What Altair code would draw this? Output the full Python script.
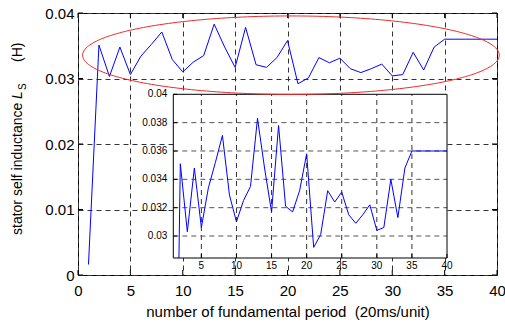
import altair as alt
import numpy as np
import pandas as pd

# ---------------- data ----------------
periods = list(range(1, 41))
inductance = [0.0016, 0.0351, 0.0303, 0.0348, 0.0306, 0.0334, 0.0352, 0.0371, 0.0329, 0.0310,
              0.0325, 0.0335, 0.0383, 0.0348, 0.0317, 0.0378, 0.0321, 0.0317, 0.0332, 0.0358,
              0.0292, 0.0301, 0.0332, 0.0324, 0.0331, 0.0315, 0.0309, 0.0315, 0.0322, 0.0304,
              0.0306, 0.0340, 0.0313, 0.0348, 0.0360, 0.0360, 0.0360, 0.0360, 0.0360, 0.0360]

main_x_ticks = [0, 5, 10, 15, 20, 25, 30, 35, 40]
main_y_ticks = [0, 0.01, 0.02, 0.03, 0.04]
inset_x_ticks = [5, 10, 15, 20, 25, 30, 35, 40]
inset_y_ticks = [0.03, 0.032, 0.034, 0.036, 0.038, 0.04]
inset_x_labels = ["5", "10", "15", "20", "25", "30", "35", "40"]
inset_y_labels = ["0.03", "0.032", "0.034", "0.036", "0.038", "0.04"]
inset_x_grid = [5, 10, 15, 20, 25, 30, 35]
inset_y_grid = [0.03, 0.032, 0.034, 0.036, 0.038]
inset_x_domain = [1, 40]
inset_y_domain = [0.02845, 0.04]

# ellipse annotation (centre / semi-axes in data units)
ell_cx, ell_cy, ell_a, ell_b = 20.33, 0.03356, 19.89, 0.00599

FONT = "Liberation Sans"
W, H = 419, 262
GRID = "#333333"
TICK = 5

# ---------------- main plot ----------------
df = pd.DataFrame({"period": periods, "L": inductance})
xs = alt.Scale(domain=[0, 40], nice=False, zero=False)
ys = alt.Scale(domain=[0, 0.04], nice=False, zero=False)

x_axis = alt.Axis(values=main_x_ticks, format="d", grid=True, gridDash=[5, 4], gridColor=GRID,
                  gridOpacity=1, gridWidth=1, domain=False, ticks=False, labelFont=FONT,
                  labelFontSize=15, labelColor="black", labelPadding=8, labelFlush=False,
                  title="number of fundamental period\u00a0\u00a0(20ms/unit)", titleFont=FONT,
                  titleFontSize=15, titleFontWeight="normal", titleColor="black", titlePadding=6,
                  orient="bottom")
y_axis = alt.Axis(values=main_y_ticks, format="~g", grid=True, gridDash=[5, 4], gridColor=GRID,
                  gridOpacity=1, gridWidth=1, domain=False, ticks=False, labelFont=FONT,
                  labelFontSize=15, labelColor="black", labelPadding=4, labelFlush=False,
                  title=None, orient="left")

main_line = alt.Chart(df).mark_line(color="#0000ff", strokeWidth=1).encode(
    x=alt.X("period:Q", scale=xs, axis=x_axis),
    y=alt.Y("L:Q", scale=ys, axis=y_axis),
)

mxt = pd.DataFrame({"x": main_x_ticks})
myt = pd.DataFrame({"y": main_y_ticks})
tick_b = alt.Chart(mxt).mark_rule(color="black", strokeWidth=1).encode(
    x=alt.X("x:Q", scale=xs), y=alt.value(H), y2=alt.value(H - TICK))
tick_t = alt.Chart(mxt).mark_rule(color="black", strokeWidth=1).encode(
    x=alt.X("x:Q", scale=xs), y=alt.value(0), y2=alt.value(TICK))
tick_l = alt.Chart(myt).mark_rule(color="black", strokeWidth=1).encode(
    y=alt.Y("y:Q", scale=ys), x=alt.value(0), x2=alt.value(TICK))
tick_r = alt.Chart(myt).mark_rule(color="black", strokeWidth=1).encode(
    y=alt.Y("y:Q", scale=ys), x=alt.value(W), x2=alt.value(W - TICK))

t1 = alt.Chart(pd.DataFrame({"t": ["stator self inductance"]})).mark_text(
    angle=270, align="left", baseline="middle", font=FONT, fontSize=14, color="black"
).encode(text="t:N", x=alt.value(-60), y=alt.value(222))
t2 = alt.Chart(pd.DataFrame({"t": ["L"]})).mark_text(
    angle=270, align="left", baseline="middle", font=FONT, fontSize=14, fontStyle="italic",
    color="black"
).encode(text="t:N", x=alt.value(-60), y=alt.value(86))
t3 = alt.Chart(pd.DataFrame({"t": ["S"]})).mark_text(
    angle=270, align="left", baseline="middle", font=FONT, fontSize=10, color="black"
).encode(text="t:N", x=alt.value(-55), y=alt.value(77))
t4 = alt.Chart(pd.DataFrame({"t": ["(H)"]})).mark_text(
    angle=270, align="left", baseline="middle", font=FONT, fontSize=14, color="black"
).encode(text="t:N", x=alt.value(-60), y=alt.value(49))

main_layer = alt.layer(main_line, tick_b, tick_t, tick_l, tick_r, t1, t2, t3, t4)

# ---------------- inset ----------------
ixs = alt.Scale(domain=inset_x_domain, range=[95.3, 369], nice=False, zero=False, clamp=True)
iys = alt.Scale(domain=inset_y_domain, range=[245, 81.3], nice=False, zero=False, clamp=True)

# clip the first segment at the inset's lower edge
ins = df.copy()
y0 = inset_y_domain[0]
v1, v2 = inductance[0], inductance[1]
ins.loc[0, "period"] = periods[0] + (y0 - v1) / (v2 - v1) * (periods[1] - periods[0])
ins.loc[0, "L"] = y0

box_df = pd.DataFrame({"x1": [inset_x_domain[0]], "x2": [inset_x_domain[1]],
                       "y1": [inset_y_domain[0]], "y2": [inset_y_domain[1]]})
box = alt.Chart(box_df).mark_rect(fill="white").encode(
    x=alt.X("x1:Q", scale=ixs, axis=None), x2="x2:Q",
    y=alt.Y("y1:Q", scale=iys, axis=None), y2="y2:Q",
)
frame = alt.Chart(box_df).mark_rect(fill=None, stroke="black", strokeWidth=1).encode(
    x=alt.X("x1:Q", scale=ixs, axis=None), x2="x2:Q",
    y=alt.Y("y1:Q", scale=iys, axis=None), y2="y2:Q",
)
vgrid = alt.Chart(pd.DataFrame({"x": inset_x_grid, "y1": y0, "y2": inset_y_domain[1]})).mark_rule(
    color=GRID, strokeDash=[5, 4], strokeWidth=1
).encode(
    x=alt.X("x:Q", scale=ixs, axis=None),
    y=alt.Y("y1:Q", scale=iys, axis=None), y2="y2:Q",
)
hgrid = alt.Chart(pd.DataFrame({"y": inset_y_grid, "x1": inset_x_domain[0],
                                "x2": inset_x_domain[1]})).mark_rule(
    color="#555555", strokeDash=[5, 4], strokeWidth=1
).encode(
    y=alt.Y("y:Q", scale=iys, axis=None),
    x=alt.X("x1:Q", scale=ixs, axis=None), x2="x2:Q",
)
itick_b = alt.Chart(pd.DataFrame({"x": inset_x_ticks, "y": y0})).mark_rule(
    color="black", strokeWidth=1, y2Offset=-4
).encode(x=alt.X("x:Q", scale=ixs, axis=None), y=alt.Y("y:Q", scale=iys, axis=None), y2="y:Q")
itick_l = alt.Chart(pd.DataFrame({"y": inset_y_ticks, "x": inset_x_domain[0]})).mark_rule(
    color="black", strokeWidth=1, x2Offset=4
).encode(y=alt.Y("y:Q", scale=iys, axis=None), x=alt.X("x:Q", scale=ixs, axis=None), x2="x:Q")
inset_line = alt.Chart(ins).mark_line(color="#0000ff", strokeWidth=1).encode(
    x=alt.X("period:Q", scale=ixs, axis=None),
    y=alt.Y("L:Q", scale=iys, axis=None),
)
xlab = alt.Chart(pd.DataFrame({"x": inset_x_ticks, "lab": inset_x_labels, "y": y0})).mark_text(
    align="center", baseline="top", dy=3, font=FONT, fontSize=10, color="black"
).encode(
    x=alt.X("x:Q", scale=ixs, axis=None),
    y=alt.Y("y:Q", scale=iys, axis=None),
    text="lab:N",
)
ylab = alt.Chart(pd.DataFrame({"y": inset_y_ticks, "lab": inset_y_labels,
                               "x": inset_x_domain[0]})).mark_text(
    align="right", baseline="middle", dx=-6, font=FONT, fontSize=10, color="black"
).encode(
    x=alt.X("x:Q", scale=ixs, axis=None),
    y=alt.Y("y:Q", scale=iys, axis=None),
    text="lab:N",
)
inset_layer = alt.layer(box, vgrid, hgrid, inset_line, itick_b, itick_l, frame, xlab, ylab)

# ---------------- ellipse ----------------
theta = np.linspace(0, 2 * np.pi, 241)
ell = pd.DataFrame({"i": np.arange(len(theta)),
                    "x": ell_cx + ell_a * np.cos(theta),
                    "y": ell_cy + ell_b * np.sin(theta)})
ellipse = alt.Chart(ell).mark_line(color="#ee2a2a", strokeWidth=1, clip=False).encode(
    x=alt.X("x:Q", scale=alt.Scale(domain=[0, 40], nice=False, zero=False), axis=None),
    y=alt.Y("y:Q", scale=alt.Scale(domain=[0, 0.04], nice=False, zero=False), axis=None),
    order="i:Q",
)

chart = alt.layer(main_layer, inset_layer, ellipse).resolve_scale(
    x="independent", y="independent"
).properties(
    width=W, height=H,
    padding={"left": 78, "top": 13, "right": 8, "bottom": 50},
    autosize=alt.AutoSizeParams(type="none"),
    background="white",
).configure_view(stroke="black", strokeWidth=1)

chart.save("out.html", embed_options={"renderer": "svg", "actions": False})
